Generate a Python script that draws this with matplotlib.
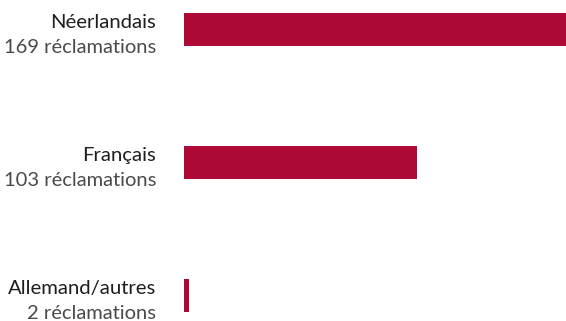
import matplotlib
matplotlib.use("Agg")
import matplotlib.pyplot as plt
import matplotlib.transforms as mtransforms

languages = ["Néerlandais", "Français", "Allemand/autres"]
claims = [169, 103, 2]
unit = "réclamations"

bar_color = "#AE0836"

fig = plt.figure(figsize=(5.66, 3.21), dpi=100)
ax = fig.add_axes([184 / 566, 0, 382 / 566, 1])

positions = list(range(len(languages)))
ax.barh(positions, claims, height=0.248, color=bar_color)
ax.set_xlim(0, max(claims))
ax.set_ylim(2.1917, -0.2218)
ax.axis("off")

trans = mtransforms.blended_transform_factory(ax.transAxes, ax.transData)
for pos, name, n in zip(positions, languages, claims):
    ax.text(-0.0733, pos - 0.008, name, transform=trans, ha="right", va="baseline",
            fontsize=14.6, family="Lato", color="#1e1e1e")
    ax.text(-0.0733, pos + 0.178, f"{n} {unit}", transform=trans, ha="right", va="baseline",
            fontsize=14.5, family="Lato", color="#4a4a4a")

fig.savefig("out.png", dpi=100)
